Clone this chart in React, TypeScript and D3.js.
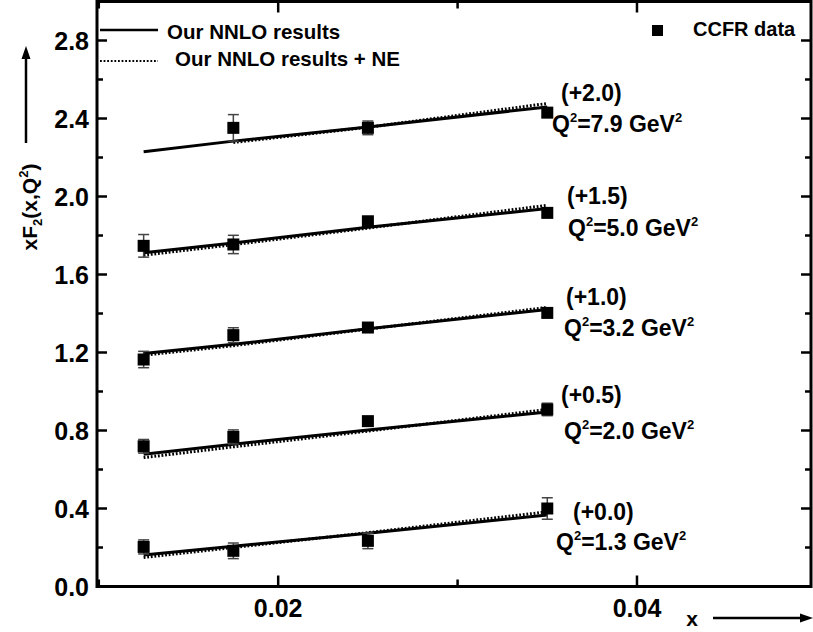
import React from 'react';
import * as d3 from 'd3';

// x values where theory and data are given
const xPoints = [0.0125, 0.0175, 0.025, 0.035];

// shifted series, bottom to top
const shifts = ['(+0.0)', '(+0.5)', '(+1.0)', '(+1.5)', '(+2.0)'];
const q2Values = ['1.3', '2.0', '3.2', '5.0', '7.9'];

const nnlo = [
  [0.161, 0.207, 0.273, 0.367],
  [0.678, 0.730, 0.802, 0.895],
  [1.195, 1.242, 1.322, 1.420],
  [1.711, 1.762, 1.842, 1.938],
  [2.229, 2.284, 2.357, 2.459],
];

const nnloNE = [
  [0.149, 0.200, 0.276, 0.383],
  [0.661, 0.716, 0.797, 0.908],
  [1.186, 1.235, 1.320, 1.431],
  [1.699, 1.753, 1.838, 1.955],
  [null, 2.277, 2.355, 2.477],
];

const ccfr = [
  [0.203, 0.183, 0.234, 0.400],
  [0.719, 0.767, 0.848, 0.908],
  [1.164, 1.289, 1.328, 1.403],
  [1.747, 1.754, 1.873, 1.916],
  [null, 2.352, 2.352, 2.430],
];

const ccfrErr = [
  [0.036, 0.040, 0.040, 0.055],
  [0.035, 0.036, 0.012, 0.032],
  [0.042, 0.038, 0.015, 0.020],
  [0.058, 0.047, 0.015, 0.015],
  [null, 0.068, 0.035, 0.020],
];

const yMajor = [0, 0.4, 0.8, 1.2, 1.6, 2.0, 2.4, 2.8];
const yMinor = [0.2, 0.6, 1.0, 1.4, 1.8, 2.2, 2.6];
const xMajor = [0.02, 0.04];
const xMinor = [0.01, 0.03, 0.05];

// annotation positions [x, baseline] for shift and Q2 labels
const shiftPos = [[573, 520], [561, 403], [566, 305], [567, 204], [561, 101]];
const q2Pos = [[556, 550], [564, 439], [564, 336], [568, 236], [552, 132]];

const FONT = '"Liberation Sans", Arial, sans-serif';

export default function App() {
  const left = 97, right = 811, top = 1.5, bottom = 586.5;
  const x = d3.scaleLinear().domain([0.0099, 0.0497]).range([left, right]);
  const y = d3.scaleLinear().domain([0, 3.0]).range([bottom, top]);

  const line = d3.line<number | null>()
    .defined(d => d !== null)
    .x((_, i) => x(xPoints[i]))
    .y(d => y(d as number));

  return (
    <svg width={813} height={632} style={{ position: 'absolute', left: 0, top: 0, background: '#fff' }}
      fontFamily={FONT} fontWeight="bold">
      {/* theory lines */}
      {nnlo.map((s, i) => (
        <path key={'s' + i} d={line(s) || ''} fill="none" stroke="#000" strokeWidth={3} />
      ))}
      {nnloNE.map((s, i) => (
        <path key={'d' + i} d={line(s) || ''} fill="none" stroke="#000" strokeWidth={3}
          strokeDasharray="1.8 1.8" />
      ))}

      {/* data with error bars */}
      {ccfr.map((s, i) => s.map((v, j) => {
        if (v === null) return null;
        const e = ccfrErr[i][j] as number;
        const cx = x(xPoints[j]);
        return (
          <g key={'p' + i + '-' + j}>
            <line x1={cx} x2={cx} y1={y(v - e)} y2={y(v + e)} stroke="#444" strokeWidth={1.5} />
            <line x1={cx - 5.5} x2={cx + 5.5} y1={y(v - e)} y2={y(v - e)} stroke="#444" strokeWidth={1.5} />
            <line x1={cx - 5.5} x2={cx + 5.5} y1={y(v + e)} y2={y(v + e)} stroke="#444" strokeWidth={1.5} />
            <rect x={cx - 6} y={y(v) - 6} width={12} height={12} fill="#000" />
          </g>
        );
      }))}

      {/* frame */}
      <rect x={left} y={top} width={right - left} height={bottom - top} fill="none" stroke="#000" strokeWidth={3} />

      {/* y ticks */}
      {yMajor.map(v => (
        <g key={'ym' + v}>
          <line x1={left} x2={left + 10} y1={y(v)} y2={y(v)} stroke="#000" strokeWidth={2.5} />
          <line x1={right} x2={right - 10} y1={y(v)} y2={y(v)} stroke="#000" strokeWidth={2.5} />
          <text x={89} y={y(v) + 9} fontSize={25} textAnchor="end">{v.toFixed(1)}</text>
        </g>
      ))}
      {yMinor.map(v => (
        <g key={'yn' + v}>
          <line x1={left} x2={left + 6} y1={y(v)} y2={y(v)} stroke="#000" strokeWidth={2.5} />
          <line x1={right} x2={right - 6} y1={y(v)} y2={y(v)} stroke="#000" strokeWidth={2.5} />
        </g>
      ))}

      {/* x ticks */}
      {xMajor.map(v => (
        <g key={'xm' + v}>
          <line x1={x(v)} x2={x(v)} y1={bottom} y2={bottom - 11} stroke="#000" strokeWidth={2.5} />
          <line x1={x(v)} x2={x(v)} y1={top} y2={top + 11} stroke="#000" strokeWidth={2.5} />
          <text x={x(v)} y={617} fontSize={25} textAnchor="middle">{v.toFixed(2)}</text>
        </g>
      ))}
      {xMinor.map(v => (
        <g key={'xn' + v}>
          <line x1={x(v)} x2={x(v)} y1={bottom} y2={bottom - 7} stroke="#000" strokeWidth={2.5} />
          <line x1={x(v)} x2={x(v)} y1={top} y2={top + 7} stroke="#000" strokeWidth={2.5} />
        </g>
      ))}

      {/* axis titles with arrows */}
      <text x={692} y={626} fontSize={21} textAnchor="middle">x</text>
      <line x1={713} x2={802} y1={618} y2={618} stroke="#000" strokeWidth={2.5} />
      <path d="M813,618 L800,613.5 L800,622.5 Z" fill="#000" />

      <text transform="translate(37,207) rotate(-90)" fontSize={21} textAnchor="middle">
        xF<tspan fontSize={13} dy={5}>2</tspan><tspan dy={-5}>(x,Q</tspan>
        <tspan fontSize={13} dy={-9}>2</tspan><tspan dy={9}>)</tspan>
      </text>
      <line x1={26} x2={26} y1={143} y2={56} stroke="#000" strokeWidth={2.5} />
      <path d="M26,46 L21.5,59 L30.5,59 Z" fill="#000" />

      {/* legend */}
      <line x1={100} x2={158} y1={30} y2={30} stroke="#000" strokeWidth={2.5} />
      <text x={167} y={39} fontSize={20.5}>Our NNLO results</text>
      <line x1={100} x2={158} y1={61} y2={61} stroke="#000" strokeWidth={2} strokeDasharray="1.8 1.8" />
      <text x={175} y={66} fontSize={20.5}>Our NNLO results + NE</text>
      <rect x={652} y={25} width={11} height={11} fill="#000" />
      <text x={693} y={36} fontSize={20}>CCFR data</text>

      {/* series annotations */}
      {shifts.map((s, i) => (
        <text key={'sh' + i} x={shiftPos[i][0]} y={shiftPos[i][1]} fontSize={23}>{s}</text>
      ))}
      {q2Values.map((q, i) => (
        <text key={'q' + i} x={q2Pos[i][0]} y={q2Pos[i][1]} fontSize={23}>
          Q<tspan fontSize={13} dy={-10}>2</tspan><tspan dy={10}>={q} GeV</tspan>
          <tspan fontSize={13} dy={-10}>2</tspan>
        </text>
      ))}
    </svg>
  );
}
